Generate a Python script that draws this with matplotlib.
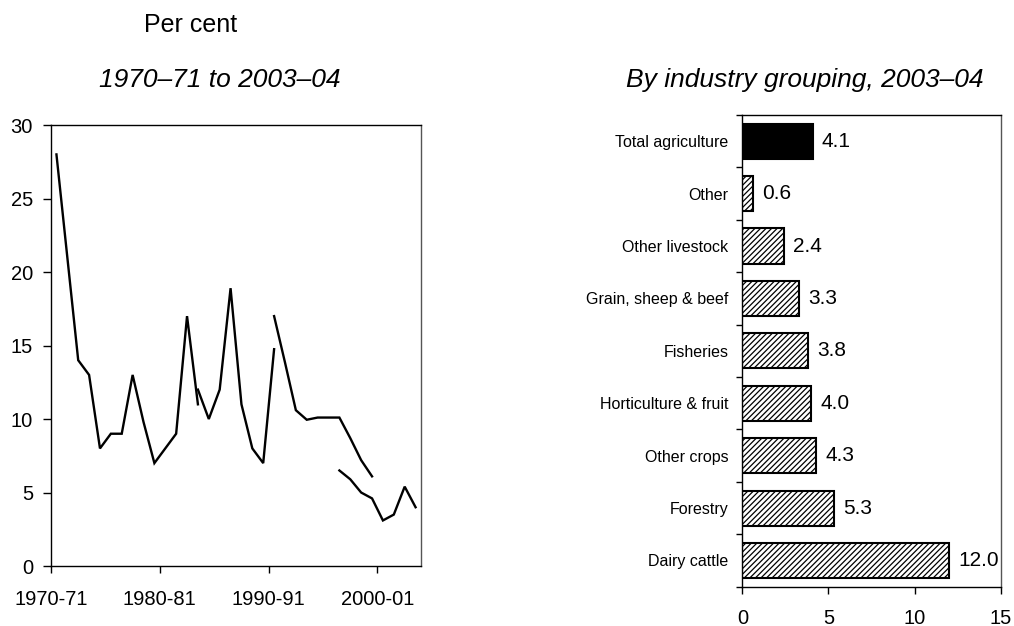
import numpy as np
import matplotlib
matplotlib.use("Agg")
import matplotlib.pyplot as plt

plt.rcParams["font.family"] = ["Liberation Sans", "DejaVu Sans"]
plt.rcParams["hatch.linewidth"] = 0.9

# --- Donnees : panneau de gauche (series discontinues, une valeur par annee) ---
n_annees = 34  # 1970-71 a 2003-04
serie_a_debut, serie_a = 0, [28, 21, 14, 13, 8, 9, 9, 13, 9.8, 7, 8, 9, 17.0, 11]
serie_b_debut, serie_b = 13, [12, 10, 12, 18.9, 11, 8, 7, 14.75]
serie_c_debut, serie_c = 20, [17.0, 13.85, 10.6, 9.95, 10.1, 10.1, 10.1, 8.7, 7.2, 6.1]
serie_d_debut, serie_d = 26, [6.5, 5.9, 5.0, 4.6, 3.1, 3.5, 5.4, 4.0]
ticks_annees = ["1970-71", "1980-81", "1990-91", "2000-01"]

# --- Donnees : panneau de droite ---
industries = ["Dairy cattle", "Forestry", "Other crops", "Horticulture & fruit",
              "Fisheries", "Grain, sheep & beef", "Other livestock", "Other",
              "Total agriculture"]
valeurs = [12.0, 5.3, 4.3, 4.0, 3.8, 3.3, 2.4, 0.6, 4.1]

fig = plt.figure(figsize=(10.14, 6.26), dpi=100)

# --- Panneau de gauche ---
ax1 = fig.add_axes([0.0503, 0.0958, 0.3649, 0.7045])
for debut, vals in [(serie_a_debut, serie_a), (serie_b_debut, serie_b),
                    (serie_c_debut, serie_c), (serie_d_debut, serie_d)]:
    x = np.arange(debut, debut + len(vals)) + 0.5
    ax1.plot(x, vals, color="black", lw=1.7, solid_joinstyle="miter")

ax1.set_xlim(0, n_annees)
ax1.set_ylim(0, 30)
ax1.set_yticks([0, 5, 10, 15, 20, 25, 30])
ax1.set_xticks([0, 10, 20, 30])
ax1.set_xticklabels(ticks_annees)
ax1.tick_params(axis="y", direction="out", length=6, width=1, pad=7, labelsize=14.5)
ax1.tick_params(axis="x", direction="out", length=5, width=1, pad=12, labelsize=14.5)
for s in ax1.spines.values():
    s.set_linewidth(1)
ax1.spines["right"].set_color("#555555")

# --- Panneau de droite ---
ax2 = fig.add_axes([0.7321, 0.0628, 0.2548, 0.7535])
pos = np.arange(len(industries))
for p, v in zip(pos, valeurs):
    if industries[p] == "Total agriculture":
        ax2.barh(p, v, height=0.67, color="black", edgecolor="black", lw=1.5)
    else:
        ax2.barh(p, v, height=0.67, color="white", edgecolor="black",
                 hatch="//////", lw=1.5)
    ax2.annotate(f"{v:.1f}", (v, p), xytext=(6.5, 0), textcoords="offset points",
                 va="center", ha="left", fontsize=15)

ax2.set_xlim(0, 15)
ax2.set_ylim(-0.5, len(industries) - 0.5)
ax2.set_xticks([0, 5, 10, 15])
ax2.set_yticks(pos)
ax2.set_yticklabels(industries, fontsize=11.5)
ax2.set_yticks(np.arange(-0.5, len(industries)), minor=True)
ax2.tick_params(axis="y", which="major", length=0, pad=10)
ax2.tick_params(axis="y", which="minor", direction="out", length=4, width=1)
ax2.tick_params(axis="x", direction="out", length=5, width=1, pad=11, labelsize=14.5)
for s in ax2.spines.values():
    s.set_linewidth(1)
ax2.spines["right"].set_color("#555555")

# --- Textes ---
fig.text(191 / 1014, 1 - 25 / 626, "Per cent", ha="center", va="center", fontsize=18)
fig.text(220 / 1014, 1 - 80 / 626, "1970–71 to 2003–04", ha="center", va="center",
         fontsize=19, style="italic")
fig.text(805 / 1014, 1 - 80 / 626, "By industry grouping, 2003–04", ha="center",
         va="center", fontsize=19, style="italic")

fig.savefig("out.png", dpi=100)
